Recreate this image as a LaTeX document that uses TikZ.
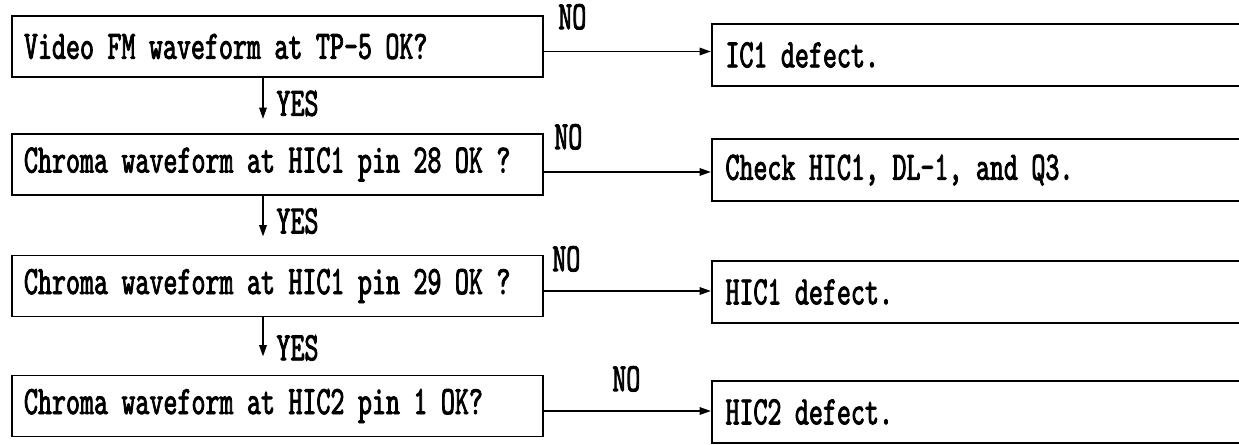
\documentclass[tikz,border=0pt]{standalone}
\usepackage{fontspec}
\usepackage{tikz}
\usetikzlibrary{arrows.meta,positioning}
\newfontfamily\flowfont[FakeStretch=0.66,FakeBold=2]{lmmono10-regular.otf}
\tikzset{
  qbox/.style={draw=black,line width=1.1pt,minimum width=10.62cm,minimum height=1.22cm,
    text width=10.14cm,inner xsep=0.24cm,align=left,font=\flowfont\fontsize{23}{24}\selectfont},
  rbox/.style={qbox,minimum width=12cm,minimum height=1.24cm,text width=11.46cm,inner xsep=0.27cm},
  lbl/.style={inner sep=0pt,font=\flowfont\fontsize{23}{24}\selectfont},
  noedge/.style={-{Triangle[length=6.5pt,width=4.2pt]},line width=1.1pt},
  yesedge/.style={noedge},
}
\begin{document}
\begin{tikzpicture}
  \useasboundingbox (0,0) rectangle (24.78,-8.90);
  \clip (0,0) rectangle (24.78,-8.90);
  \node[qbox] (q1) at (5.55,-0.93) {Video FM waveform at TP-5 OK?};
  \node[qbox] (q2) at (5.55,-3.29) {Chroma waveform at HIC1 pin 28 OK ?};
  \node[qbox] (q3) at (5.55,-5.72) {Chroma waveform at HIC1 pin 29 OK ?};
  \node[qbox] (q4) at (5.55,-8.12) {Chroma waveform at HIC2 pin 1 OK?};
  \node[rbox,anchor=west] (r1) at (14.22,-1.10) {IC1 defect.};
  \node[rbox,anchor=west] (r2) at (14.22,-3.40) {Check HIC1, DL-1, and Q3.};
  \node[rbox,anchor=west] (r3) at (14.22,-5.84) {HIC1 defect.};
  \node[rbox,anchor=west] (r4) at (14.22,-8.24) {HIC2 defect.};
  \draw[noedge] ([yshift=-1mm]q1.east) -- ([yshift=-1mm]q1.east -| r1.west);
  \draw[noedge] ([yshift=-1.5mm]q2.east) -- ([yshift=-1.5mm]q2.east -| r2.west);
  \draw[noedge] ([yshift=-1mm]q3.east) -- ([yshift=-1mm]q3.east -| r3.west);
  \draw[noedge] ([yshift=-1mm]q4.east) -- ([yshift=-1mm]q4.east -| r4.west);
  \node[lbl,above right=0.33cm and 0.28cm of q1.east] (n1) {NO};
  \node[lbl,above right=0.29cm and 0.20cm of q2.east] (n2) {NO};
  \node[lbl,above right=0.28cm and 0.16cm of q3.east] (n3) {NO};
  \node[lbl,above right=0.28cm and 1.36cm of q4.east] (n4) {NO};
  \draw[yesedge] ([xshift=-2.9mm]q1.south) -- ([xshift=-2.9mm,yshift=2.8mm]q2.north)
    node[lbl,pos=0.62,right=2.5mm] (y1) {YES};
  \draw[yesedge] ([xshift=-2.9mm]q2.south) -- ([xshift=-2.9mm,yshift=3.6mm]q3.north)
    node[lbl,pos=0.62,right=2.5mm] (y2) {YES};
  \draw[yesedge] ([xshift=-2.9mm]q3.south) -- ([xshift=-2.9mm,yshift=3.6mm]q4.north)
    node[lbl,pos=0.78,right=2.5mm] (y3) {YES};
\end{tikzpicture}
\end{document}
